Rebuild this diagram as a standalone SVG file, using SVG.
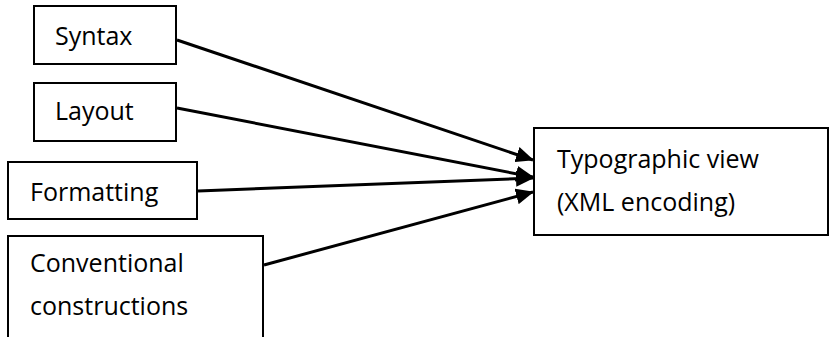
<svg xmlns="http://www.w3.org/2000/svg" width="830" height="337" viewBox="0 0 830 337">
  <style>
    .box { fill: #ffffff; stroke: #000000; stroke-width: 2; }
    .label { font-family: "Open Sans", Lato, "Liberation Sans", sans-serif; font-size: 25px; font-variant-ligatures: none; fill: #000000; }
    .edge { fill: none; stroke: #000000; stroke-width: 3; marker-end: url(#arrow); }
  </style>
  <defs>
    <marker id="arrow" markerUnits="userSpaceOnUse" markerWidth="18" markerHeight="16" refX="17" refY="8" orient="auto">
      <path d="M0,0 L18,8 L0,16 Z" fill="#000000"/>
    </marker>
  </defs>
  <rect width="830" height="337" fill="#ffffff"/>

  <g id="node-syntax">
    <rect class="box" x="34" y="6" width="142" height="58"/>
    <text class="label" x="55" y="45">Syntax</text>
  </g>
  <g id="node-layout">
    <rect class="box" x="34" y="83" width="142" height="58"/>
    <text class="label" x="55" y="120">Layout</text>
  </g>
  <g id="node-formatting">
    <rect class="box" x="8" y="162" width="189" height="57"/>
    <text class="label" x="30" y="201">Formatting</text>
  </g>
  <g id="node-conventional">
    <rect class="box" x="8" y="236" width="255" height="110"/>
    <text class="label" x="30" y="272">Conventional</text>
    <text class="label" x="30" y="315">constructions</text>
  </g>
  <g id="node-typographic">
    <rect class="box" x="534" y="128" width="294" height="107"/>
    <text class="label" x="557" y="168">Typographic view</text>
    <text class="label" x="557" y="211">(XML encoding)</text>
  </g>

  <g id="connectors">
    <line class="edge" x1="177" y1="40" x2="533" y2="160"/>
    <line class="edge" x1="177" y1="108" x2="533" y2="177"/>
    <line class="edge" x1="198" y1="191" x2="533" y2="178"/>
    <line class="edge" x1="264" y1="265" x2="533" y2="192"/>
  </g>
</svg>
